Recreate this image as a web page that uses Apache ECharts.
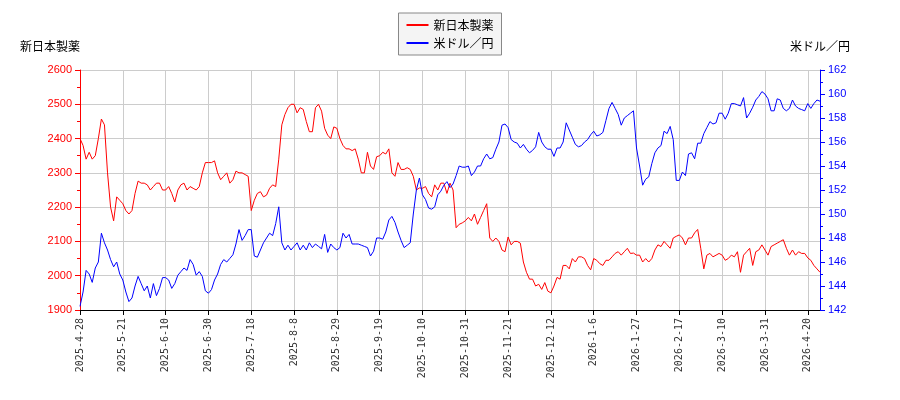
<!DOCTYPE html>
<html><head><meta charset="utf-8">
<script src="https://cdn.jsdelivr.net/npm/echarts@6/dist/echarts.min.js"></script>
<style>html,body{margin:0;padding:0;background:#fff}#c{width:900px;height:400px}</style>
</head><body><div id="c"></div>
<script>
const holidays = ['2025-04-29','2025-05-05','2025-05-06','2025-07-21','2025-08-11','2025-09-15','2025-09-23','2025-10-13','2025-11-03','2025-11-24','2025-12-31','2026-01-01','2026-01-02','2026-01-12','2026-02-11','2026-02-23','2026-03-20'];
const stockValues = [
2400,2380,2340,2360,2340,2350,2400,2457,2440,2300,2200,2160,2230,2220,
2210,2190,2180,2190,2240,2276,2270,2270,2265,2250,2260,2270,2270,2250,
2250,2260,2240,2215,2250,2265,2270,2250,2260,2255,2250,2260,2300,2330,
2330,2330,2335,2300,2280,2290,2300,2270,2280,2305,2300,2300,2295,2290,
2190,2220,2240,2245,2230,2235,2255,2265,2260,2340,2440,2470,2490,2500,
2500,2475,2490,2485,2450,2420,2420,2490,2500,2480,2430,2410,2400,2434,
2430,2400,2380,2370,2370,2365,2370,2340,2300,2300,2360,2320,2310,2347,
2350,2360,2355,2370,2300,2290,2330,2310,2310,2315,2310,2290,2250,2256,
2255,2260,2240,2230,2265,2250,2270,2270,2240,2270,2250,2140,2150,2154,
2160,2170,2160,2180,2150,2170,2190,2210,2110,2100,2110,2100,2075,2070,
2113,2090,2100,2100,2095,2040,2010,1990,1990,1970,1975,1960,1980,1955,
1950,1970,1995,1990,2030,2030,2020,2050,2040,2055,2055,2050,2030,2017,
2050,2045,2035,2030,2045,2045,2055,2065,2070,2060,2070,2080,2065,2066,
2060,2060,2040,2050,2040,2050,2075,2090,2085,2100,2090,2080,2110,2115,
2119,2110,2090,2110,2110,2125,2135,2080,2020,2060,2065,2055,2060,2065,
2060,2045,2050,2060,2055,2070,2010,2060,2070,2080,2030,2070,2075,2090,
2075,2060,2085,2090,2095,2100,2105,2080,2060,2075,2060,2070,2065,2065,
2052,2045,2030,2020,2010];
const fxValues = [
142.3,143.5,145.3,145.0,144.3,145.5,146.0,148.4,147.6,147.0,146.2,145.6,146.0,145.0,
144.5,143.5,142.7,143.0,144.0,144.8,144.2,143.6,144.0,143.0,144.2,143.2,143.8,144.7,
144.7,144.5,143.8,144.2,144.9,145.2,145.5,145.3,146.2,145.8,144.9,145.2,144.8,143.6,
143.4,143.7,144.5,145.0,145.8,146.2,146.0,146.3,146.6,147.5,148.7,147.8,148.2,148.7,
148.7,146.5,146.4,147.0,147.6,148.0,148.4,148.2,149.2,150.6,147.6,147.0,147.4,147.0,
147.3,147.6,147.0,147.4,147.0,147.6,147.2,147.5,147.3,147.1,148.3,146.8,147.5,147.2,
147.0,147.2,148.4,148.0,148.3,147.5,147.5,147.5,147.4,147.3,147.2,146.5,146.9,148.0,
148.0,147.9,148.5,149.5,149.8,149.3,148.5,147.8,147.2,147.4,147.6,150.0,152.0,153.0,
151.6,151.2,150.5,150.4,150.6,151.6,151.9,152.4,152.7,152.2,152.5,153.2,154.0,153.9,
153.9,154.0,153.2,153.5,154.0,154.0,154.6,155.0,154.6,154.7,155.4,156.0,157.4,157.5,
157.2,156.2,156.0,155.9,155.5,155.8,155.4,155.1,155.3,155.6,156.8,156.0,155.6,155.4,
155.4,154.8,155.5,155.5,156.0,157.6,157.0,156.4,155.8,155.6,155.7,156.0,156.2,156.6,
156.9,156.5,156.6,156.8,157.8,158.8,159.3,158.8,158.3,157.4,158.0,158.2,158.4,158.6,
155.5,154.0,152.4,152.9,153.1,154.2,155.1,155.5,155.7,156.9,156.7,157.3,156.2,152.8,
152.8,153.5,153.2,155.0,155.1,154.6,155.9,155.9,156.7,157.2,157.7,157.5,157.6,158.4,
158.4,157.9,158.4,159.2,159.2,159.1,159.0,159.7,158.0,158.4,158.9,159.5,159.8,160.2,
160.0,159.6,158.6,158.6,159.6,159.5,158.8,158.6,158.8,159.5,159.0,158.8,158.7,158.6,
159.2,158.8,159.2,159.5,159.4];

const dates = [];
(function(){
  let d = new Date(Date.UTC(2025,3,28));
  while (dates.length < stockValues.length) {
    const wd = d.getUTCDay();
    const s = d.toISOString().slice(0,10);
    if (wd !== 0 && wd !== 6 && holidays.indexOf(s) < 0) {
      const p = s.split('-');
      dates.push(p[0] + '-' + (+p[1]) + '-' + (+p[2]));
    }
    d = new Date(d.getTime() + 86400000);
  }
})();

const chart = echarts.init(document.getElementById('c'));
chart.setOption({
  animation: false,
  grid: {left: 80, right: 80, top: 70, bottom: 90},
  legend: {
    top: 13, left: 'center', orient: 'vertical',
    borderColor: '#888', borderWidth: 1, borderRadius: 0, padding: [6, 8], itemGap: 6,
    backgroundColor: '#f4f4f4',
    itemWidth: 22, itemHeight: 2,
    textStyle: {fontSize: 12, color: '#000', fontFamily: 'Noto Sans CJK JP'},
    data: [{name: '新日本製薬', icon: 'rect'}, {name: '米ドル／円', icon: 'rect'}]
  },
  xAxis: {
    type: 'category', data: dates, boundaryGap: false,
    axisLine: {lineStyle: {color: '#000'}},
    axisTick: {interval: 13, length: 5, lineStyle: {color: '#000'}},
    axisLabel: {interval: 13, rotate: 90, fontSize: 10, color: '#333', fontFamily: 'DejaVu Sans Mono'},
    splitLine: {show: true, interval: 13, lineStyle: {color: '#ccc'}}
  },
  yAxis: [{
    type: 'value', min: 1900, max: 2600, interval: 100,
    name: '新日本製薬', nameLocation: 'end', nameGap: 18,
    nameTextStyle: {color: '#000', fontSize: 12, align: 'right', padding: [0, 0, 0, 0], fontFamily: 'Noto Sans CJK JP'},
    axisLine: {show: true, lineStyle: {color: '#f00'}},
    axisTick: {show: true, length: 5, lineStyle: {color: '#f00'}},
    minorTick: {show: true, splitNumber: 2, length: 3, lineStyle: {color: '#f00'}},
    axisLabel: {color: '#f00', fontSize: 11, formatter: v => String(v)},
    splitLine: {lineStyle: {color: '#ccc'}}
  }, {
    type: 'value', min: 142, max: 162, interval: 2,
    name: '米ドル／円', nameLocation: 'end', nameGap: 18,
    nameTextStyle: {color: '#000', fontSize: 12, align: 'left', padding: [0, 0, 0, -30], fontFamily: 'Noto Sans CJK JP'},
    axisLine: {show: true, lineStyle: {color: '#00f'}},
    axisTick: {show: true, length: 5, lineStyle: {color: '#00f'}},
    minorTick: {show: true, splitNumber: 2, length: 3, lineStyle: {color: '#00f'}},
    axisLabel: {color: '#00f', fontSize: 11},
    splitLine: {show: false}
  }],
  series: [{
    name: '新日本製薬', type: 'line', data: stockValues, yAxisIndex: 0,
    showSymbol: false, lineStyle: {color: '#f00', width: 1}, itemStyle: {color: '#f00'}
  }, {
    name: '米ドル／円', type: 'line', data: fxValues, yAxisIndex: 1,
    showSymbol: false, lineStyle: {color: '#00f', width: 1}, itemStyle: {color: '#00f'}
  }]
});
</script></body></html>
